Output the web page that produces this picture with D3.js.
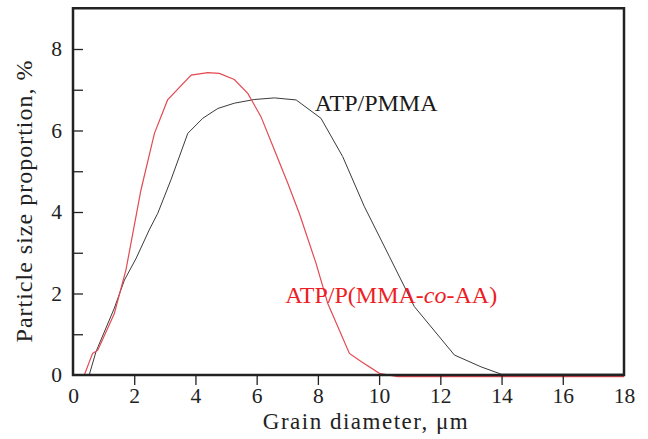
<!DOCTYPE html>
<html>
<head>
<meta charset="utf-8">
<script src="https://cdn.jsdelivr.net/npm/d3@7"></script>
<style>
  body { margin: 0; background: #fff; }
  text { font-family: "Liberation Serif", "Times New Roman", serif; }
</style>
</head>
<body>
<div id="chart"></div>
<script>
// ATP/PMMA curve (grain diameter um, proportion %)
const pmmaX = [0.53, 0.75, 1.35, 1.68, 2.06, 2.49, 2.77, 3.2, 3.75, 4.24, 4.73, 5.27, 5.92, 6.58, 7.29, 8.1, 8.81, 9.52, 10.34, 11.15, 12.46, 13.33, 13.99, 18];
const pmmaY = [0, 0.57, 1.64, 2.33, 2.86, 3.56, 3.97, 4.79, 5.93, 6.3, 6.54, 6.67, 6.76, 6.8, 6.75, 6.3, 5.36, 4.13, 2.9, 1.68, 0.49, 0.2, 0.02, 0.02];
// ATP/P(MMA-co-AA) curve
const coX = [0.37, 0.64, 0.81, 1.35, 1.73, 2.22, 2.66, 3.09, 3.86, 4.4, 4.78, 5.27, 5.71, 6.14, 6.58, 7.02, 7.4, 7.94, 8.32, 9.03, 9.41, 10.01, 10.6, 18];
const coY = [0, 0.53, 0.61, 1.51, 2.58, 4.54, 5.93, 6.75, 7.36, 7.42, 7.4, 7.25, 6.91, 6.34, 5.52, 4.7, 3.95, 2.74, 1.76, 0.53, 0.33, 0.04, -0.04, -0.04];

const xTicks = [0, 2, 4, 6, 8, 10, 12, 14, 16, 18];
const yTicks = [0, 1, 2, 3, 4, 5, 6, 7, 8];
const yLabels = [0, 2, 4, 6, 8];

const labels = [
  {text: "ATP/PMMA", x: 7.9, y: 6.49, color: "#1a1a1a"},
  {text: "ATP/P(MMA-", italic: "co", tail: "-AA)", x: 6.93, y: 1.77, color: "#ee1d25"}
];

var width = 648, height = 439;
var frame = {left: 73, right: 624, top: 8.25, bottom: 375};

const svg = d3.select("#chart").append("svg")
    .attr("width", width)
    .attr("height", height);

let x = d3.scaleLinear().domain([0, 18]).range([frame.left, frame.right]);
let y = d3.scaleLinear().domain([0, 9]).range([frame.bottom, frame.top]);

const line = d3.line().x(d => x(d[0])).y(d => y(d[1]));

const series = [
  {pts: d3.zip(pmmaX, pmmaY), color: "#3a3a3a", w: 1},
  {pts: d3.zip(coX, coY), color: "#e34a52", w: 1.2}
];

svg.append("g")
  .selectAll("path")
  .data(series)
  .join("path")
    .attr("d", d => line(d.pts))
    .attr("fill", "none")
    .attr("stroke", d => d.color)
    .attr("stroke-width", d => d.w);

// frame
svg.append("rect")
    .attr("x", frame.left)
    .attr("y", frame.top)
    .attr("width", frame.right - frame.left)
    .attr("height", frame.bottom - frame.top)
    .attr("fill", "none")
    .attr("stroke", "#222")
    .attr("stroke-width", 2.5);

// x axis, ticks pointing out
let xAxis = g => g
    .attr("transform", `translate(0,${frame.bottom})`)
    .call(d3.axisBottom(x).tickValues(xTicks).tickSize(10).tickPadding(3))
    .call(g => g.select(".domain").remove())
    .call(g => g.selectAll(".tick line")
        .attr("stroke", "#222").attr("stroke-width", 1.3)
        .attr("display", d => (d === 0 || d === 18) ? "none" : null))
    .call(g => g.selectAll(".tick text")
        .attr("fill", "#222").style("font-size", "21.5px")
        .style("font-family", "'Liberation Serif', serif"));

// y axis, ticks pointing in
let yAxis = g => g
    .attr("transform", `translate(${frame.left},0)`)
    .call(d3.axisLeft(y).tickValues(yTicks).tickSizeInner(-10).tickSizeOuter(0).tickPadding(11)
        .tickFormat(d => yLabels.includes(d) ? d : ""))
    .call(g => g.select(".domain").remove())
    .call(g => g.selectAll(".tick line")
        .attr("stroke", "#222").attr("stroke-width", 1.3)
        .attr("display", d => d === 0 ? "none" : null))
    .call(g => g.selectAll(".tick text")
        .attr("fill", "#222").style("font-size", "21.5px")
        .style("font-family", "'Liberation Serif', serif"));

svg.append("g").call(xAxis);
svg.append("g").call(yAxis);

// axis titles
svg.append("text")
    .attr("x", 366)
    .attr("y", 428.5)
    .attr("text-anchor", "middle")
    .style("font-size", "23px")
    .style("letter-spacing", "1.5px")
    .attr("fill", "#222")
    .text("Grain diameter, μm");

svg.append("text")
    .attr("transform", "translate(32,201) rotate(-90)")
    .attr("text-anchor", "middle")
    .style("font-size", "24px")
    .style("letter-spacing", "1px")
    .attr("fill", "#222")
    .text("Particle size proportion, %");

// curve labels
labels.forEach(l => {
  const t = svg.append("text")
      .attr("x", x(l.x))
      .attr("y", y(l.y))
      .attr("fill", l.color)
      .style("font-size", "24px");
  t.append("tspan").text(l.text);
  if (l.italic) {
    t.append("tspan").style("font-style", "italic").text(l.italic);
    t.append("tspan").text(l.tail);
  }
});
</script>
</body>
</html>
